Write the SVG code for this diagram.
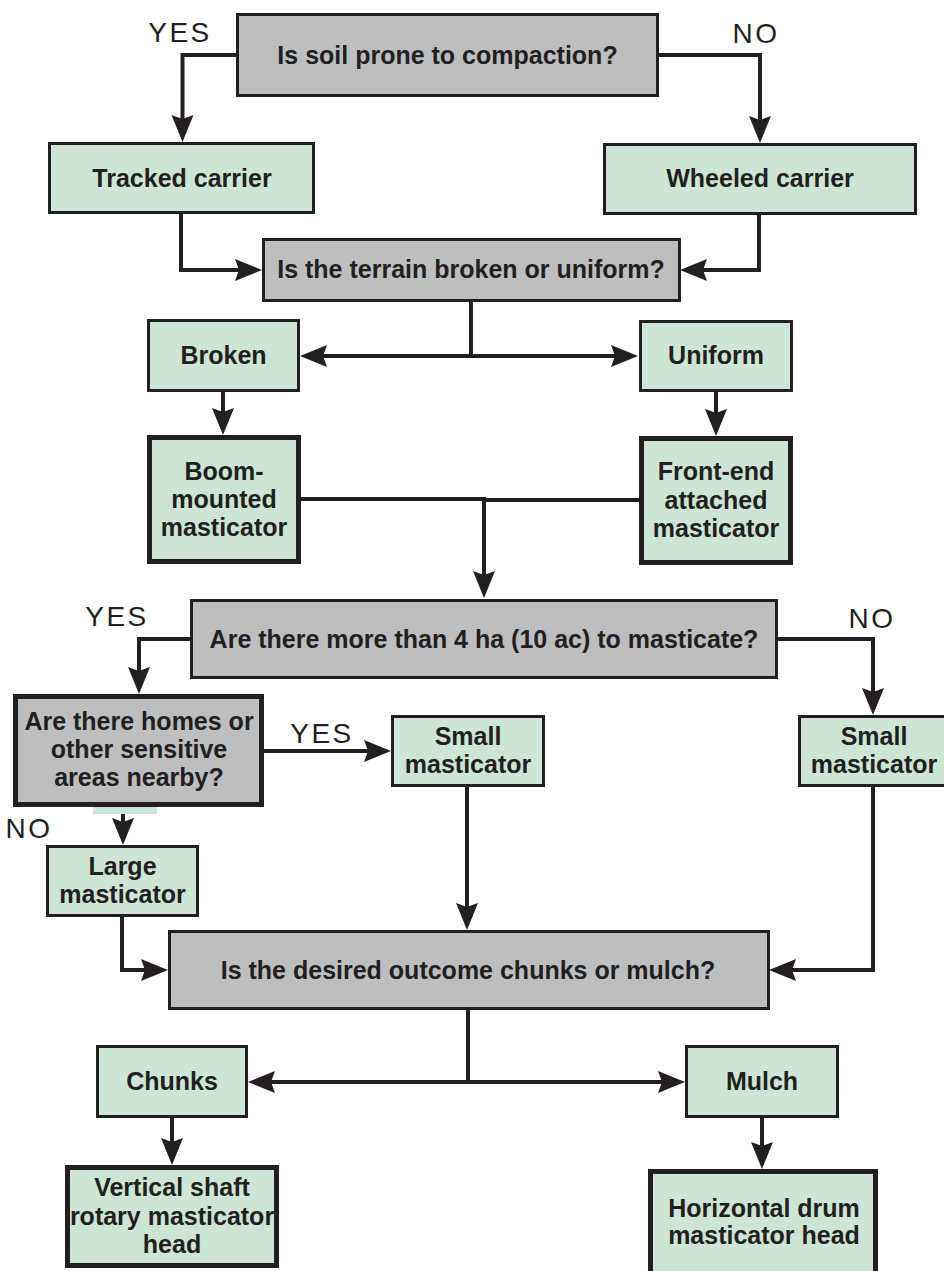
<svg xmlns="http://www.w3.org/2000/svg" width="944" height="1271" viewBox="0 0 944 1271">
<style>
.q{fill:#bcbec0;stroke:#231f20;stroke-width:3}
.g{fill:#cce5d4;stroke:#231f20;stroke-width:3}
.gt{fill:#cce5d4;stroke:#231f20;stroke-width:5}
.qt{fill:#bcbec0;stroke:#231f20;stroke-width:5}
.t{font-family:"Liberation Sans",Arial,Helvetica,sans-serif;font-weight:bold;font-size:25px;fill:#231f20;text-anchor:middle}
.l{font-family:"Liberation Sans",Arial,Helvetica,sans-serif;font-size:28px;letter-spacing:2.5px;fill:#231f20;text-anchor:middle}
.c{fill:none;stroke:#231f20;stroke-width:4;marker-end:url(#ah)}
.c2{fill:none;stroke:#231f20;stroke-width:4}
</style>
<defs>
<marker id="ah" markerUnits="userSpaceOnUse" viewBox="-6 -12 30 24" markerWidth="30" markerHeight="24" refX="0" refY="0" orient="auto">
<path d="M22,0 L-5,-11 L-1,0 L-5,11 Z" fill="#231f20"/>
</marker>
</defs>
<rect width="944" height="1271" fill="#ffffff"/>
<g id="connectors">
<path class="c" d="M237,55 H182.5 V120"/>
<path class="c" d="M658,55 H760 V121"/>
<path class="c" d="M181,214 V270 H240"/>
<path class="c" d="M759,215 V270 H702"/>
<path class="c" d="M471,302 V356 H322"/>
<path class="c" d="M471,356 H616"/>
<path class="c" d="M223,392 V413"/>
<path class="c" d="M716,392 V414"/>
<path class="c" d="M300,499 H484 V576"/>
<path class="c2" d="M639,500 H482"/>
<path class="c" d="M190,639 H139 V672"/>
<path class="c" d="M778,639 H873 V693"/>
<path class="c" d="M264,751 H369"/>
<path class="c" d="M123,807 V823"/>
<path class="c" d="M467,787 V908"/>
<path class="c" d="M873,787 V970 H791"/>
<path class="c" d="M122,916 V970 H146"/>
<path class="c" d="M468,1010 V1082 H270"/>
<path class="c" d="M468,1082 H663"/>
<path class="c" d="M172,1118 V1143"/>
<path class="c" d="M762,1118 V1147"/>
</g>
<g id="labels">
<text class="l" x="180" y="42">YES</text>
<text class="l" x="756" y="43">NO</text>
<text class="l" x="117" y="626">YES</text>
<text class="l" x="872" y="628">NO</text>
<text class="l" x="322" y="743">YES</text>
<text class="l" x="29" y="838">NO</text>
</g>
<g id="n1"><rect class="q" x="237.5" y="14.5" width="420" height="81"/><text class="t" x="447.5" y="64">Is soil prone to compaction?</text></g>
<g id="n2"><rect class="g" x="49.5" y="143.5" width="264" height="69"/><text class="t" x="182" y="187">Tracked carrier</text></g>
<g id="n3"><rect class="g" x="604.5" y="144.5" width="311" height="69"/><text class="t" x="760" y="187">Wheeled carrier</text></g>
<g id="n4"><rect class="q" x="263.5" y="239.5" width="416" height="61"/><text class="t" x="471" y="278">Is the terrain broken or uniform?</text></g>
<g id="n5"><rect class="g" x="148.5" y="320.5" width="150" height="70"/><text class="t" x="223.5" y="364">Broken</text></g>
<g id="n6"><rect class="g" x="640.5" y="321.5" width="151" height="69"/><text class="t" x="716" y="364">Uniform</text></g>
<g id="n7"><rect class="gt" x="149.5" y="437.5" width="149" height="124"/><text class="t" x="224" y="480">Boom-</text><text class="t" x="224" y="508">mounted</text><text class="t" x="224" y="536">masticator</text></g>
<g id="n8"><rect class="gt" x="641.5" y="438.5" width="149" height="124"/><text class="t" x="716" y="480">Front-end</text><text class="t" x="716" y="509">attached</text><text class="t" x="716" y="537">masticator</text></g>
<g id="n9"><rect class="q" x="191.5" y="600.5" width="585" height="77"/><text class="t" x="484" y="648">Are there more than 4 ha (10 ac) to masticate?</text></g>
<g id="n10"><rect class="qt" x="15.5" y="696.5" width="246" height="108"/><text class="t" x="139" y="730">Are there homes or</text><text class="t" x="139" y="758">other sensitive</text><text class="t" x="139" y="786">areas nearby?</text></g>
<rect x="93" y="807" width="64" height="7" fill="#cce5d4"/>
<g id="n11"><rect class="g" x="392.5" y="716.5" width="151" height="69"/><text class="t" x="468" y="745">Small</text><text class="t" x="468" y="773">masticator</text></g>
<g id="n12"><rect class="g" x="799.5" y="716.5" width="150" height="69"/><text class="t" x="874" y="745">Small</text><text class="t" x="874" y="773">masticator</text></g>
<g id="n13"><rect class="g" x="47.5" y="846.5" width="150" height="69"/><text class="t" x="122.5" y="875">Large</text><text class="t" x="122.5" y="903">masticator</text></g>
<g id="n14"><rect class="q" x="169.5" y="931.5" width="599" height="77"/><text class="t" x="468" y="979">Is the desired outcome chunks or mulch?</text></g>
<g id="n15"><rect class="g" x="97.5" y="1046.5" width="149" height="70"/><text class="t" x="172" y="1090">Chunks</text></g>
<g id="n16"><rect class="g" x="686.5" y="1046.5" width="151" height="70"/><text class="t" x="762" y="1090">Mulch</text></g>
<g id="n17"><rect class="gt" x="67.5" y="1167.5" width="209" height="98"/><text class="t" x="172" y="1196">Vertical shaft</text><text class="t" x="172" y="1225">rotary masticator</text><text class="t" x="172" y="1253">head</text></g>
<g id="n18"><rect class="gt" x="650.5" y="1171.5" width="225" height="105"/><text class="t" x="764" y="1217">Horizontal drum</text><text class="t" x="764" y="1244">masticator head</text></g>
</svg>
